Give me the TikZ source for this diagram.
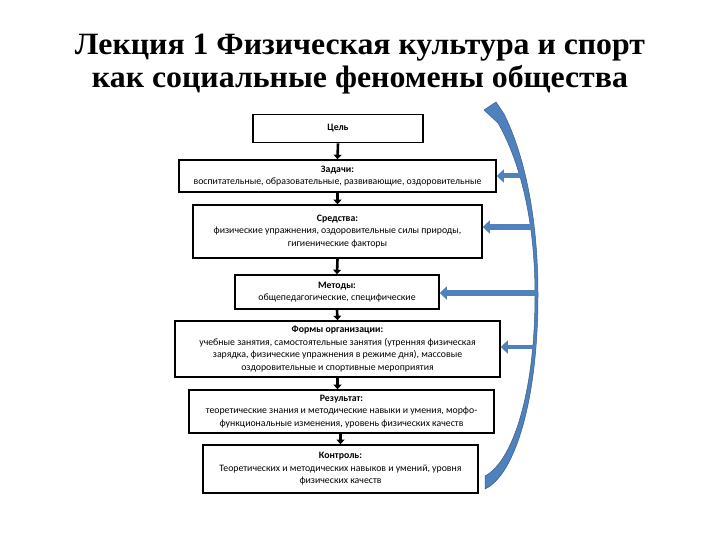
\documentclass[tikz,border=0pt]{standalone}
\usepackage{fontspec}
\usepackage{graphicx}
\setmainfont{Liberation Serif}
\newfontfamily\boxfont{Carlito}
\usetikzlibrary{arrows.meta}
\definecolor{arrblue}{HTML}{4F81BD}
\definecolor{arrline}{HTML}{385D8A}
\begin{document}
\begin{tikzpicture}[x=1pt,y=-1pt,
  box/.style={draw=black, line width=1.6pt, fill=white, align=center,
    font=\boxfont\fontsize{9.8}{12.5}\selectfont, inner sep=0pt},
  flow/.style={line width=2.6pt, -{Triangle[length=4.5pt,width=8pt]}},
  feed/.style={draw=arrblue, line width=#1, -{Triangle[length=7pt,width=13pt]}},
  ttl/.style={anchor=base, font=\bfseries\fontsize{31}{31}\selectfont, inner sep=0pt}]
\useasboundingbox (0,0) rectangle (720,540);
\fill[white] (0,0) rectangle (720,540);

% title
\node[ttl] (t1) at (360,55) {\resizebox{570pt}{\height}{Лекция 1 Физическая культура и спорт}};
\node[ttl] (t2) at (360,88) {\resizebox{536pt}{\height}{как социальные феномены общества}};

% boxes
\node[box, minimum width=170pt, minimum height=28pt] (cel) at (338,128.5) {\textbf{Цель}};
\node[box, minimum width=317pt, minimum height=32pt] (zad) at (337.5,176)
  {\textbf{Задачи:}\\воспитательные, образовательные, развивающие, оздоровительные};
\node[box, minimum width=289pt, minimum height=53pt] (sred) at (337.5,231.5)
  {\textbf{Средства:}\\физические упражнения, оздоровительные силы природы,\\гигиенические факторы};
\node[box, minimum width=204pt, minimum height=34pt] (met) at (337,292)
  {\textbf{Методы:}\\общепедагогические, специфические};
\node[box, minimum width=325pt, minimum height=56pt] (form) at (337.5,349)
  {\textbf{Формы организации:}\\учебные занятия, самостоятельные занятия (утренняя физическая\\зарядка, физические упражнения в режиме дня), массовые\\оздоровительные и спортивные мероприятия};
\node[box, minimum width=305pt, minimum height=43pt] (res) at (341.5,411.5)
  {\textbf{Результат:}\\теоретические знания и методические навыки и умения, морфо-\\функциональные изменения, уровень физических качеств};
\node[box, minimum width=275pt, minimum height=48pt] (kon) at (340.5,469)
  {\textbf{Контроль:}\\Теоретических и методических навыков и умений, уровня\\физических качеств};

% black flow arrows
\draw[flow] (cel.south) -- (zad.north);
\draw[flow] (zad.south) -- (sred.north);
\draw[flow] (sred.south) -- (met.north);
\draw[flow] (met.south) -- (form.north);
\draw[flow] (form.south) -- (form.south |- res.north);
\draw[flow] (kon.north |- res.south) -- (kon.north);

% curved blue arrow
\filldraw[fill=arrblue, draw=arrline, line width=0.5pt]
  (485,489) .. controls (515,475) and (538,400) .. (538,295)
  .. controls (538,210) and (522,150) .. (504,114)
  -- (496,102) -- (484,110) -- (498,123)
  .. controls (518,158) and (535,215) .. (535,295)
  .. controls (535,395) and (512,462) .. (485,476)
  -- cycle;

% feedback arrows
\coordinate (f1) at (524,176);
\coordinate (f2) at (533,227);
\coordinate (f3) at (537,293);
\coordinate (f4) at (536,347);
\draw[feed=5pt] (f1) -- (zad.east);
\draw[feed=6pt] (f2) -- (f2 -| sred.east);
\draw[feed=6pt] (f3) -- (f3 -| met.east);
\draw[feed=4.5pt] (f4) -- (f4 -| form.east);
\end{tikzpicture}
\end{document}
